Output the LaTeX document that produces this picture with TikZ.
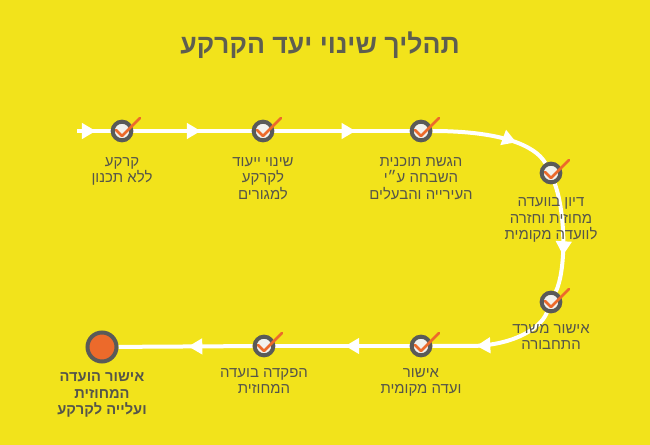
\documentclass[tikz,border=0pt]{standalone}
\usepackage{fontspec}
\setmainfont{Liberation Sans}
\newfontfamily\hebfont[Script=Hebrew]{Liberation Sans}
\TeXXeTstate=1
\usetikzlibrary{arrows.meta,positioning,decorations.markings,backgrounds}
\definecolor{bgyellow}{HTML}{F2E31B}
\definecolor{ringgray}{HTML}{5A5A58}
\definecolor{innergray}{HTML}{F2F2EE}
\definecolor{orangefill}{HTML}{EC6A2B}
\definecolor{txtgray}{HTML}{55554A}
\definecolor{titlegray}{HTML}{5E5E50}
\newcommand\drawcheck[1]{\draw[chk] ([shift={(-6,-1)}]#1.center) -- ++(6,6) -- ++(18,-18);}

\begin{document}
\begin{tikzpicture}[x=0.75pt,y=-0.75pt,
  trail/.style={draw=white,line width=3pt},
  arrowat/.style={postaction={decorate,decoration={markings,
      mark=at position #1 with {\arrow[white]{Triangle[length=10.5pt,width=11.5pt]}}}}},
  stop/.style={circle,draw=ringgray,line width=3pt,fill=innergray,minimum size=14pt,inner sep=0pt},
  final/.style={stop,fill=orangefill,minimum size=21.75pt},
  lbl/.style={font=\hebfont\fontsize{11.2}{12.4}\selectfont,text=txtgray,align=center,inner sep=0pt},
  chk/.style={draw=orangefill,line width=2pt,line cap=round,line join=round}]
\useasboundingbox (0,0) rectangle (650,445);
% title
\node[font=\hebfont\bfseries\fontsize{20}{24}\selectfont,text=titlegray] (title) at (320,45)
  {\beginR תהליך שינוי יעד הקרקע\endR};
% ---------- stations ----------
\coordinate (s0) at (77,131);
\node[stop] (n1) at (122,131) {};
\node[stop] (n2) at (263,131) {};
\node[stop] (n3) at (421,131) {};
\node[stop] (n4) at (551,173) {};
\node[stop] (n5) at (551,302) {};
\node[stop] (n6) at (421,346) {};
\node[stop] (n7) at (264,346) {};
\node[final] (n8) at (102,347) {};
\foreach \n in {n1,n2,n3,n4,n5,n6,n7}{ \drawcheck{\n} }
% ---------- the route ----------
\begin{pgfonlayer}{background}
  \fill[bgyellow] (0,0) rectangle (650,445);
  \draw[trail,arrowat=0.56] (s0) -- (n1);
  \draw[trail,arrowat=0.57] (n1) -- (n2);
  \draw[trail,arrowat=0.6] (n2) -- (n3);
  \draw[trail,arrowat=0.7] (n3) .. controls (500,131) and (535,145) .. (n4);
  \draw[trail,arrowat=0.66] (n4) .. controls (566,215) and (566,270) .. (n5);
  \draw[trail,arrowat=0.65] (n5) .. controls (540,330) and (510,346) .. (470,346) -- (n6);
  \draw[trail,arrowat=0.48] (n6) -- (n7);
  \draw[trail,arrowat=0.48] (n7) -- (n8);
\end{pgfonlayer}
% ---------- labels ----------
\node[lbl,below=11pt of n1] (t1) {\beginR קרקע\endR\\\beginR ללא תכנון\endR};
\node[lbl,below=11pt of n2] (t2) {\beginR שינוי ייעוד\endR\\\beginR לקרקע\endR\\\beginR למגורים\endR};
\node[lbl,below=11pt of n3] (t3) {\beginR הגשת תוכנית\endR\\\beginR השבחה ע״י\endR\\\beginR העירייה והבעלים\endR};
\node[lbl,below=10pt of n4] (t4) {\beginR דיון בוועדה\endR\\\beginR מחוזית וחזרה\endR\\\beginR לוועדה מקומית\endR};
\node[lbl,below=8pt of n5] (t5) {\beginR אישור משרד\endR\\\beginR התחבורה\endR};
\node[lbl,below=8pt of n6] (t6) {\beginR אישור\endR\\\beginR ועדה מקומית\endR};
\node[lbl,below=8pt of n7] (t7) {\beginR הפקדה בועדה\endR\\\beginR המחוזית\endR};
\node[lbl,font=\hebfont\bfseries\fontsize{11}{12.2}\selectfont,below=7pt of n8] (t8)
  {\beginR אישור הועדה\endR\\\beginR המחוזית\endR\\\beginR ועלייה לקרקע\endR};
\end{tikzpicture}
\end{document}
